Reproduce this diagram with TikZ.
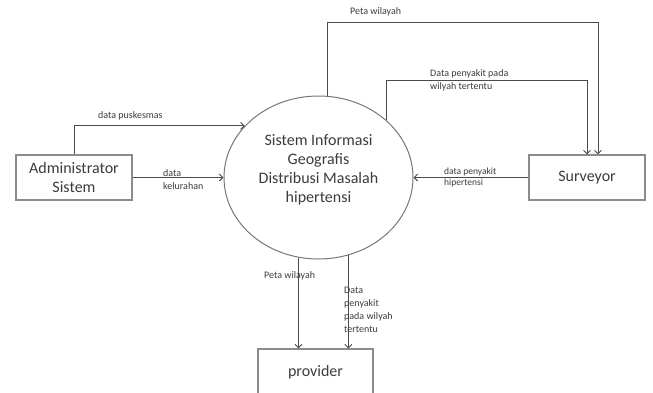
\documentclass[tikz,border=0pt]{standalone}
\usepackage{fontspec}
\setmainfont{Carlito}
\usetikzlibrary{arrows.meta,positioning,shapes.geometric}
\definecolor{linegray}{HTML}{4A4A4A}
\definecolor{boxgray}{HTML}{8C8C8C}
\definecolor{textgray}{HTML}{3C3C3C}

\begin{document}
\begin{tikzpicture}[x=1pt,y=-1pt,
    entity/.style={draw=boxgray, line width=1.1pt, minimum width=116pt, minimum height=45pt,
        inner sep=0pt, align=center, text=textgray, font=\fontsize{16}{19}\selectfont},
    proc/.style={draw=boxgray!85!black, line width=1pt, ellipse, minimum width=189pt,
        minimum height=163pt, inner sep=0pt},
    flow/.style={draw=linegray, line width=0.9pt, -{Straight Barb[length=3.5pt,width=7pt]}},
    lbl/.style={anchor=west, inner sep=0pt, align=left, text=textgray,
        font=\fontsize{10}{13}\selectfont}]

    % page size of the reference
    \fill[white] (0,0) rectangle (653,392);
    \useasboundingbox (0,0) rectangle (653,392);

    % external entities and the process
    \node[entity] (admin) at (74,177.5) {Administrator\\Sistem};
    \node[entity] (surveyor) at (587,177.5) {Surveyor};
    \node[entity, minimum width=115pt, minimum height=46pt] (provider) at (315.5,372) {provider};
    \node[proc] (sig) at (318.5,177.5) {};
    \node[align=center, text=textgray, font=\fontsize{16}{19}\selectfont] (sigtext)
        at ([yshift=8pt]sig.center) {Sistem Informasi\\Geografis\\Distribusi Masalah\\hipertensi};

    % flows from Administrator Sistem
    \draw[flow] (admin.north) |- (sig.145);
    \draw[flow] (admin.east) -- (sig.west);
    \node[lbl] (lblpusk) at (98,116) {data puskesmas};
    \node[lbl] (lblkel) at (163,180) {data\\kelurahan};

    % flows to and from Surveyor
    \draw[flow] (surveyor.west) -- (sig.east);
    \draw[flow] (sig.84) -- (sig.84 |- 0,22) -| ([xshift=11pt]surveyor.north);
    \draw[flow] (sig.40) -- (sig.40 |- 0,80) -| (surveyor.north);
    \node[lbl, font=\fontsize{9.5}{11}\selectfont] (lblhip) at (444,177.5) {data penyakit\\hipertensi};
    \node[lbl] (lblpeta) at (350,12) {Peta wilayah};
    \node[lbl] (lbldata) at (430,80.5) {Data penyakit pada\\wilyah tertentu};

    % flows to provider
    \draw[flow] (sig.256) -- (sig.256 |- provider.north);
    \draw[flow] (sig.291) -- (sig.291 |- provider.north);
    \node[lbl] (lblpetab) at (264,276) {Peta wilayah};
    \node[lbl] (lbldatab) at (344,309.5) {Data\\penyakit\\pada wilyah\\tertentu};

\end{tikzpicture}
\end{document}
